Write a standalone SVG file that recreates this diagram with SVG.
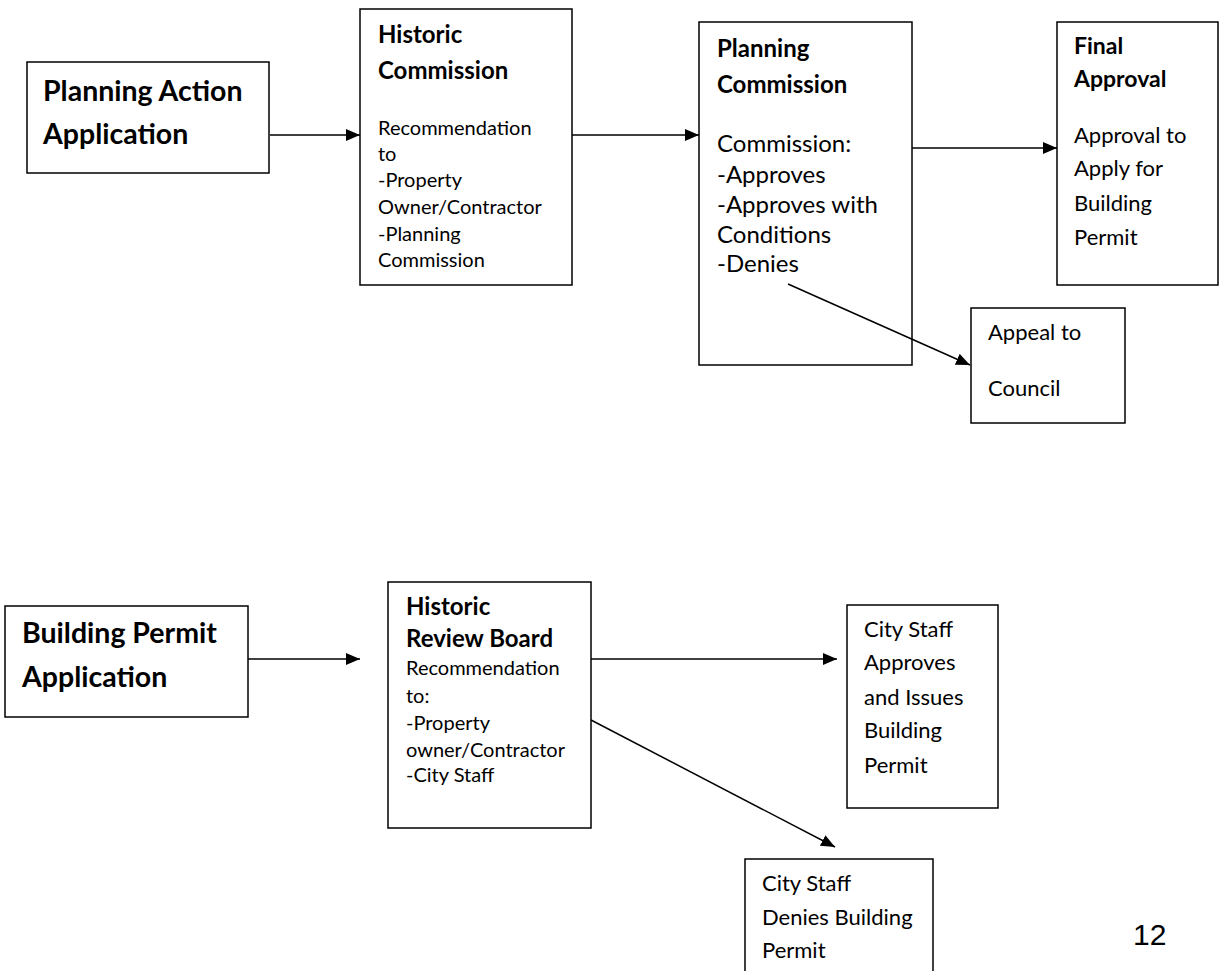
<svg xmlns="http://www.w3.org/2000/svg" width="1220" height="971" viewBox="0 0 1220 971">
<style>
.box{fill:none;stroke:#000;stroke-width:1.5}
.t{font-family:Lato,"Open Sans","Liberation Sans",sans-serif;fill:#000}
.title{font-weight:bold;font-size:28.5px}
.h26{font-weight:bold;font-size:24px}
.h24{font-weight:bold;font-size:23px}
.b20{font-size:20px}
.b24{font-size:24px}
.b22{font-size:22px}
.conn{stroke:#000;stroke-width:1.5;fill:none;marker-end:url(#arr)}
</style>
<defs>
<marker id="arr" markerUnits="userSpaceOnUse" markerWidth="14" markerHeight="12" viewBox="0 0 14 12" refX="14" refY="6" orient="auto">
<path d="M0,0 L14,6 L0,12 Z" fill="#000"/>
</marker>
</defs>
<rect width="1220" height="971" fill="#fff"/>
<g id="connectors">
<line class="conn" x1="270" y1="135" x2="360" y2="135"/>
<line class="conn" x1="572" y1="135" x2="699" y2="135"/>
<line class="conn" x1="912" y1="148" x2="1057" y2="148"/>
<line class="conn" x1="788" y1="284" x2="970" y2="365"/>
<line class="conn" x1="248" y1="659" x2="360" y2="659"/>
<line class="conn" x1="591" y1="659" x2="837" y2="659"/>
<line class="conn" x1="591" y1="720" x2="835" y2="847"/>
</g>
<g id="planning-action">
<rect class="box" x="27" y="62" width="242" height="111"/>
<text class="t title" x="43" y="101">Planning Action</text>
<text class="t title" x="43" y="144">Application</text>
</g>
<g id="historic-commission">
<rect class="box" x="360" y="9" width="212" height="276"/>
<text class="t h26" x="378" y="43">Historic</text>
<text class="t h26" x="378" y="79">Commission</text>
<text class="t b20" x="378" y="135">Recommendation</text>
<text class="t b20" x="378" y="161">to</text>
<text class="t b20" x="378" y="187">-Property</text>
<text class="t b20" x="378" y="214">Owner/Contractor</text>
<text class="t b20" x="378" y="241">-Planning</text>
<text class="t b20" x="378" y="267">Commission</text>
</g>
<g id="planning-commission">
<rect class="box" x="699" y="22" width="213" height="343"/>
<text class="t h26" x="717" y="57">Planning</text>
<text class="t h26" x="717" y="93">Commission</text>
<text class="t b24" x="717" y="152">Commission:</text>
<text class="t b24" x="717" y="183">-Approves</text>
<text class="t b24" x="717" y="213">-Approves with</text>
<text class="t b24" x="717" y="243">Conditions</text>
<text class="t b24" x="717" y="272">-Denies</text>
</g>
<g id="final-approval">
<rect class="box" x="1057" y="22" width="161" height="263"/>
<text class="t h24" x="1074" y="54">Final</text>
<text class="t h24" x="1074" y="87">Approval</text>
<text class="t b22" x="1074" y="143">Approval to</text>
<text class="t b22" x="1074" y="176">Apply for</text>
<text class="t b22" x="1074" y="211">Building</text>
<text class="t b22" x="1074" y="245">Permit</text>
</g>
<g id="appeal-council">
<rect class="box" x="971" y="308" width="154" height="115"/>
<text class="t b22" x="988" y="340">Appeal to</text>
<text class="t b22" x="988" y="396">Council</text>
</g>
<g id="building-permit">
<rect class="box" x="5" y="606" width="243" height="111"/>
<text class="t title" x="22" y="643">Building Permit</text>
<text class="t title" x="22" y="687">Application</text>
</g>
<g id="historic-review-board">
<rect class="box" x="388" y="582" width="203" height="246"/>
<text class="t h26" x="406" y="615">Historic</text>
<text class="t h26" x="406" y="647">Review Board</text>
<text class="t b20" x="406" y="675">Recommendation</text>
<text class="t b20" x="406" y="703">to:</text>
<text class="t b20" x="406" y="730">-Property</text>
<text class="t b20" x="406" y="757">owner/Contractor</text>
<text class="t b20" x="406" y="782">-City Staff</text>
</g>
<g id="city-staff-approves">
<rect class="box" x="847" y="605" width="151" height="203"/>
<text class="t b22" x="864" y="637">City Staff</text>
<text class="t b22" x="864" y="670">Approves</text>
<text class="t b22" x="864" y="705">and Issues</text>
<text class="t b22" x="864" y="738">Building</text>
<text class="t b22" x="864" y="773">Permit</text>
</g>
<g id="city-staff-denies">
<rect class="box" x="745" y="859" width="188" height="130"/>
<text class="t b22" x="762" y="891">City Staff</text>
<text class="t b22" x="762" y="925">Denies Building</text>
<text class="t b22" x="762" y="958">Permit</text>
</g>
<text x="1133" y="945" font-family="'Liberation Sans',Arial,sans-serif" font-size="30" fill="#000">12</text>
</svg>
